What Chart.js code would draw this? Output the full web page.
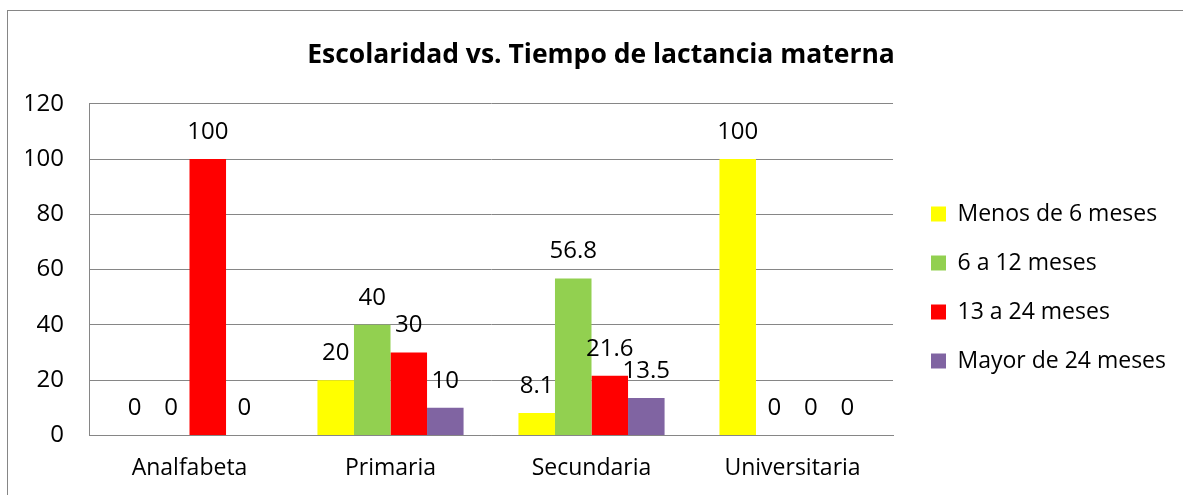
<!DOCTYPE html>
<html>
<head>
<meta charset="utf-8">
<script src="https://cdn.jsdelivr.net/npm/chart.js@4"></script>
<style>
  html, body { margin: 0; padding: 0; background: #fff; overflow: hidden; width: 1183px; height: 495px; }
  #grafico { position: absolute; left: 0; top: 0; }
  #marco {
    position: absolute; left: 7px; top: 10px; z-index: 2; pointer-events: none;
    width: 1176px; height: 485px;
    border-left: 1px solid #868686; border-top: 1px solid #868686;
  }
</style>
</head>
<body>
<canvas id="grafico" width="1183" height="501"></canvas>
<div id="marco"></div>
<script>
var categorias = ["Analfabeta", "Primaria", "Secundaria", "Universitaria"];
var menos6 = [0, 20, 8.1, 100];
var de6a12 = [0, 40, 56.8, 0];
var de13a24 = [100, 30, 21.6, 0];
var mayor24 = [0, 10, 13.5, 0];
var ticksY = [0, 20, 40, 60, 80, 100, 120];

var fuente = "'Open Sans', 'Noto Sans', sans-serif";
Chart.defaults.font.family = fuente;
Chart.defaults.color = "#000";

// etiquetas de valor encima de cada barra
var etiquetas = {
  id: "etiquetas",
  afterDatasetsDraw: function (chart) {
    var ctx = chart.ctx;
    ctx.save();
    ctx.font = "24px " + fuente;
    ctx.fillStyle = "#000";
    ctx.textAlign = "center";
    ctx.textBaseline = "middle";
    chart.data.datasets.forEach(function (ds, i) {
      chart.getDatasetMeta(i).data.forEach(function (bar, j) {
        ctx.fillText(String(ds.data[j]), bar.x, bar.y - 27);
      });
    });
    ctx.restore();
  }
};

new Chart(document.getElementById("grafico").getContext("2d"), {
  type: "bar",
  data: {
    labels: categorias,
    datasets: [
      { label: "Menos de 6 meses", data: menos6, backgroundColor: "#FFFF00" },
      { label: "6 a 12 meses", data: de6a12, backgroundColor: "#92D050" },
      { label: "13 a 24 meses", data: de13a24, backgroundColor: "#FF0000" },
      { label: "Mayor de 24 meses", data: mayor24, backgroundColor: "#8064A2" }
    ]
  },
  options: {
    responsive: false,
    animation: false,
    datasets: { bar: { categoryPercentage: 0.727, barPercentage: 1 } },
    layout: { padding: { left: 26, right: 7, top: 0, bottom: 0 } },
    scales: {
      x: {
        grid: { display: false, drawTicks: false },
        border: { display: true, color: "#868686", width: 1 },
        ticks: { padding: 19, font: { size: 23 } }
      },
      y: {
        min: 0,
        max: 120,
        afterBuildTicks: function (scale) {
          scale.ticks = ticksY.map(function (v) { return { value: v }; });
        },
        afterFit: function (scale) { scale.width = 63; },
        grid: { color: "#868686", drawTicks: false },
        border: { display: true, color: "#868686", width: 1 },
        ticks: { padding: 25, font: { size: 24 } }
      },
      espacio: {
        position: "right",
        display: true,
        grid: { display: false },
        border: { display: false },
        ticks: { display: false },
        afterFit: function (scale) { scale.width = 12; }
      }
    },
    plugins: {
      title: {
        display: true,
        text: "Escolaridad vs. Tiempo de lactancia materna",
        font: { size: 26.5, weight: "bold" },
        padding: { top: 40, bottom: 32 }
      },
      legend: {
        position: "right",
        maxWidth: 320,
        title: { display: true, text: "", font: { size: 10 }, padding: { top: 62, bottom: 0 } },
        labels: {
          boxWidth: 15,
          boxHeight: 15,
          padding: 26,
          font: { size: 23 }
        }
      },
      tooltip: { enabled: false }
    }
  },
  plugins: [etiquetas]
});
</script>
</body>
</html>
